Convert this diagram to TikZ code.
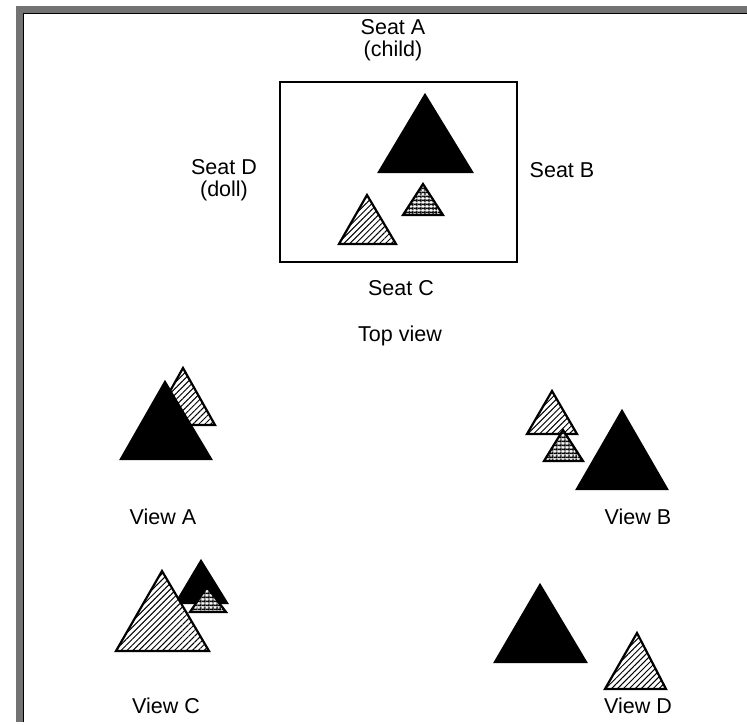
\documentclass[tikz,border=0pt]{standalone}
\usepackage{fontspec}
\setmainfont{Liberation Sans}
\usetikzlibrary{patterns.meta}
\definecolor{framegray}{gray}{0.45}
\tikzset{
 tri/.style={line width=2.2pt, line join=miter},
 solidtri/.style={tri, fill=black, draw=black},
 hatchtri/.style={tri, draw=black, preaction={fill=white}, pattern={Lines[angle=45,distance=4.2pt,line width=1pt]}},
 checktri/.style={tri, draw=black, preaction={fill=white}, preaction={pattern={Lines[angle=0,distance=4pt,line width=2pt]}}, pattern={Lines[angle=90,distance=4pt,line width=2pt]}},
 lbl/.style={font=\fontsize{21.5}{22}\selectfont, align=center, inner sep=0pt},
}
\begin{document}
\begin{tikzpicture}[x=1pt,y=-1pt]
\useasboundingbox (0,0) rectangle (747,724);
% frame
\fill[framegray] (16,6) rectangle (747,13);
\fill[framegray] (16,6) rectangle (24,722);
\draw[black, line width=1pt] (23.5,722) -- (23.5,13.5) -- (747,13.5);
% top view box
\draw[line width=2pt] (280,82) rectangle (517,262);
\node[lbl] (seatA) at (393,40) {Seat A\\(child)};
\node[lbl] (seatB) at (562,170) {Seat B};
\node[lbl] (seatC) at (401,288) {Seat C};
\node[lbl] (seatD) at (224,180) {Seat D\\(doll)};
\node[lbl] (top) at (400,336) {Top view};
% top view triangles
\draw[solidtri] (425,95) -- (472,172) -- (379,172) -- cycle;
\draw[checktri] (423,184) -- (443,215) -- (403,215) -- cycle;
\draw[hatchtri] (367,195) -- (396,244) -- (339,244) -- cycle;
% View A
\draw[hatchtri] (183,368) -- (215,425) -- (151,425) -- cycle;
\draw[solidtri] (165,382) -- (211,459) -- (121,459) -- cycle;
\node[lbl] (viewA) at (163,517) {View A};
% View B
\draw[hatchtri] (552,391) -- (577,434) -- (527,434) -- cycle;
\draw[checktri] (563,430) -- (583,461) -- (544,461) -- cycle;
\draw[solidtri] (622,411) -- (667,489) -- (577,489) -- cycle;
\node[lbl] (viewB) at (638,517) {View B};
% View C
\draw[solidtri] (201,561) -- (227,603) -- (176,603) -- cycle;
\draw[checktri] (207,587) -- (226,612) -- (190,612) -- cycle;
\draw[hatchtri] (162,571) -- (209,651) -- (116,651) -- cycle;
\node[lbl] (viewC) at (166,706) {View C};
% View D
\draw[solidtri] (540,585) -- (586,662) -- (495,662) -- cycle;
\draw[hatchtri] (637,633) -- (666,689) -- (605,689) -- cycle;
\node[lbl] (viewD) at (638,706) {View D};
\end{tikzpicture}
\end{document}
